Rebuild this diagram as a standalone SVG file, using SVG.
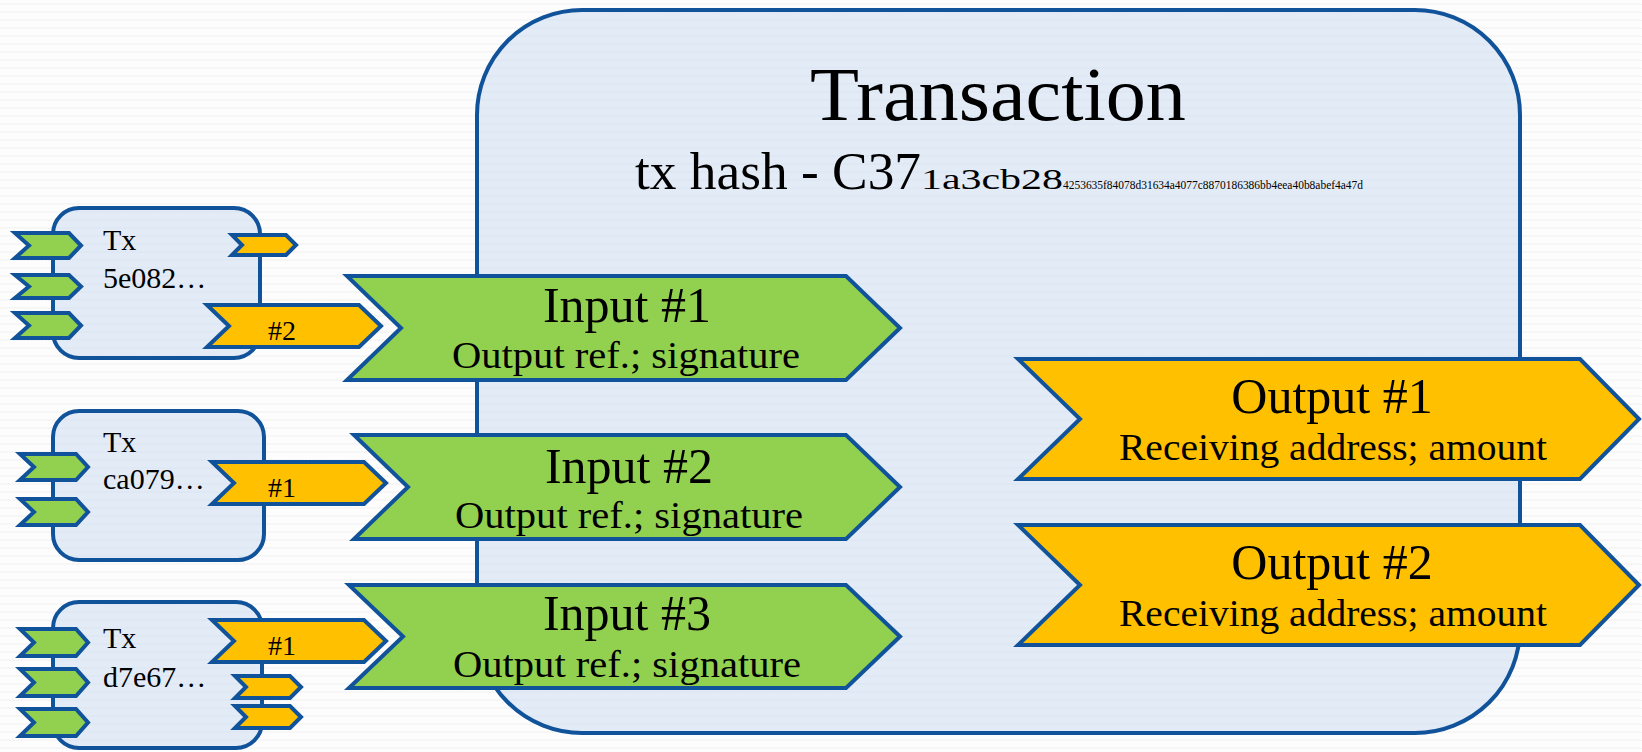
<svg xmlns="http://www.w3.org/2000/svg" width="1642" height="752" viewBox="0 0 1642 752">
  <defs>
    <!-- faint zigzag paper texture -->
    <pattern id="bgTex" width="7" height="8" patternUnits="userSpaceOnUse">
      <rect width="7" height="8" fill="#fdfdfd"/>
      <path d="M0 5 L1.75 3 L3.5 5 L5.25 3 L7 5" fill="none" stroke="#f1f1f1" stroke-width="1"/>
    </pattern>
    <pattern id="boxTex" width="7" height="8" patternUnits="userSpaceOnUse">
      <rect width="7" height="8" fill="#e2ebf6"/>
      <path d="M0 5 L1.75 3 L3.5 5 L5.25 3 L7 5" fill="none" stroke="#dce6f2" stroke-width="1"/>
    </pattern>
    <style>
      .frame { fill: url(#boxTex); stroke: #11539a; stroke-width: 4; }
      .in { fill: #92d050; stroke: #11539a; stroke-width: 4; stroke-linejoin: miter; }
      .out { fill: #ffc000; stroke: #11539a; stroke-width: 4; stroke-linejoin: miter; }
      text { font-family: "Liberation Serif", "Times New Roman", serif; fill: #000; }
      .title { font-size: 76px; text-anchor: middle; }
      .hash { font-size: 52px; }
      .head { font-size: 50px; text-anchor: middle; }
      .sub { font-size: 38px; text-anchor: middle; }
      .tx { font-size: 30px; }
      .num { font-size: 28px; text-anchor: middle; }
    </style>
  </defs>

  <rect width="1642" height="752" fill="url(#bgTex)"/>

  <!-- main transaction container -->
  <g id="transaction">
    <rect class="frame" x="477" y="10" width="1043" height="723" rx="105" ry="105"/>
    <text class="title" x="998" y="120" textLength="376" lengthAdjust="spacingAndGlyphs">Transaction</text>
    <text class="hash" x="635" y="189" textLength="286" lengthAdjust="spacingAndGlyphs">tx hash - C37</text>
    <text x="921" y="189" font-size="30" textLength="142" lengthAdjust="spacingAndGlyphs">1a3cb28</text>
    <text x="1063" y="189" font-size="13" textLength="300" lengthAdjust="spacingAndGlyphs">4253635f84078d31634a4077c8870186386bb4eea40b8abef4a47d</text>
  </g>

  <!-- previous transaction 5e082... -->
  <g id="tx-5e082">
    <rect class="frame" x="53" y="208" width="207" height="150" rx="26" ry="26"/>
    <path class="in" d="M15 233 L69 233 L81 245.5 L69 258 L15 258 L29 245.5 Z"/>
    <path class="in" d="M15 275 L69 275 L81 286.5 L69 298 L15 298 L29 286.5 Z"/>
    <path class="in" d="M15 313 L69 313 L81 325.5 L69 338 L15 338 L29 325.5 Z"/>
    <path class="out" d="M232 235 L286 235 L296 245 L286 255 L232 255 L242 245 Z"/>
    <path class="out" d="M207 305 L359 305 L381 326 L359 347 L207 347 L229 326 Z"/>
    <text class="tx" x="103" y="250">Tx</text>
    <text class="tx" x="103" y="288">5e082…</text>
    <text class="num" x="282" y="340">#2</text>
  </g>

  <!-- previous transaction ca079... -->
  <g id="tx-ca079">
    <rect class="frame" x="53" y="411" width="211" height="149" rx="26" ry="26"/>
    <path class="in" d="M20 454 L76 454 L88 467 L76 480 L20 480 L34 467 Z"/>
    <path class="in" d="M20 499 L76 499 L88 512 L76 525 L20 525 L34 512 Z"/>
    <path class="out" d="M212 462 L364 462 L386 483 L364 504 L212 504 L234 483 Z"/>
    <text class="tx" x="103" y="452">Tx</text>
    <text class="tx" x="103" y="489">ca079…</text>
    <text class="num" x="282" y="497">#1</text>
  </g>

  <!-- previous transaction d7e67... -->
  <g id="tx-d7e67">
    <rect class="frame" x="53" y="602" width="209" height="146" rx="26" ry="26"/>
    <path class="in" d="M20 629 L76 629 L88 642.5 L76 656 L20 656 L34 642.5 Z"/>
    <path class="in" d="M20 669 L76 669 L88 682.5 L76 696 L20 696 L34 682.5 Z"/>
    <path class="in" d="M20 709 L76 709 L88 722.5 L76 736 L20 736 L34 722.5 Z"/>
    <path class="out" d="M212 620 L364 620 L386 641 L364 662 L212 662 L234 641 Z"/>
    <path class="out" d="M235 676 L290 676 L301 687 L290 698 L235 698 L246 687 Z"/>
    <path class="out" d="M235 706 L290 706 L301 717 L290 728 L235 728 L246 717 Z"/>
    <text class="tx" x="103" y="648">Tx</text>
    <text class="tx" x="103" y="687">d7e67…</text>
    <text class="num" x="282" y="655">#1</text>
  </g>

  <!-- inputs -->
  <g id="input-1">
    <path class="in" d="M347 276 L846 276 L900 328 L846 380 L347 380 L401 328 Z"/>
    <text class="head" x="627" y="322">Input #1</text>
    <text class="sub" x="626" y="368" textLength="348" lengthAdjust="spacingAndGlyphs">Output ref.; signature</text>
  </g>
  <g id="input-2">
    <path class="in" d="M354 435 L846 435 L900 487 L846 539 L354 539 L408 487 Z"/>
    <text class="head" x="629" y="483">Input #2</text>
    <text class="sub" x="629" y="528" textLength="348" lengthAdjust="spacingAndGlyphs">Output ref.; signature</text>
  </g>
  <g id="input-3">
    <path class="in" d="M349 585 L846 585 L900 636.5 L846 688 L349 688 L403 636.5 Z"/>
    <text class="head" x="627" y="630">Input #3</text>
    <text class="sub" x="627" y="677" textLength="348" lengthAdjust="spacingAndGlyphs">Output ref.; signature</text>
  </g>

  <!-- outputs -->
  <g id="output-1">
    <path class="out" d="M1018 359 L1580 359 L1639 419 L1580 479 L1018 479 L1080 419 Z"/>
    <text class="head" x="1332" y="413">Output #1</text>
    <text class="sub" x="1333" y="460" textLength="428" lengthAdjust="spacingAndGlyphs">Receiving address; amount</text>
  </g>
  <g id="output-2">
    <path class="out" d="M1018 525 L1580 525 L1639 585 L1580 645 L1018 645 L1080 585 Z"/>
    <text class="head" x="1332" y="579">Output #2</text>
    <text class="sub" x="1333" y="626" textLength="428" lengthAdjust="spacingAndGlyphs">Receiving address; amount</text>
  </g>
</svg>
